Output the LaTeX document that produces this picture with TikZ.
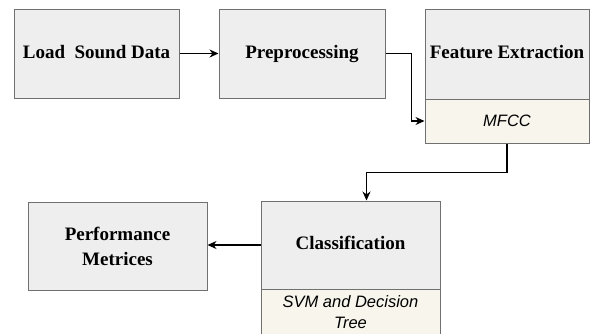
\documentclass[tikz,border=0pt]{standalone}
\usepackage{fontspec}
\setmainfont{Liberation Serif}
\newfontfamily\subfont{Liberation Sans}
\usepackage{xcolor}
\usetikzlibrary{arrows.meta, positioning}
\definecolor{boxgray}{HTML}{EEEEEE}
\definecolor{subcream}{HTML}{F7F5EC}
\definecolor{edgegray}{HTML}{707070}

\begin{document}
\begin{tikzpicture}[
    x=1pt, y=-1pt,
    block/.style={rectangle, draw=edgegray, fill=boxgray, line width=1pt, inner sep=0pt, align=center, font=\fontsize{19}{25}\selectfont\bfseries},
    oneline/.style={text height=13pt, text depth=4pt},
    sub/.style={rectangle, draw=edgegray, fill=subcream, line width=1pt, inner sep=0pt, align=center, font=\fontsize{16.5}{21}\selectfont\subfont\itshape},
    arrow/.style={-{Stealth[length=9pt, width=8pt]}, line width=1.3pt, black}
]
\useasboundingbox (0,0) rectangle (590,333);
\clip (0,0) rectangle (590,333);
% Top row
\node[block, oneline, minimum width=165pt, minimum height=89pt] (load) at (96.5,53.5) {Load\ \ Sound Data};
\node[block, oneline, minimum width=166pt, minimum height=89pt] (prep) at (302,53.5) {Preprocessing};
\node[block, oneline, minimum width=164pt, minimum height=90pt] (feat) at (507,54) {Feature Extraction};
\node[sub, minimum width=164pt, minimum height=44pt] (mfcc) at (507,121) {MFCC};
% Bottom row
\node[block, oneline, minimum width=179pt, minimum height=88pt] (class) at (350.5,245) {Classification};
\node[sub, minimum width=179pt, minimum height=46pt, anchor=north] (svm) at (350.5,289) {SVM and Decision\\Tree};
\node[block, minimum width=179pt, minimum height=88pt] (perf) at (117.5,246) {Performance\\Metrices};

% Arrows
\draw[arrow] (load) -- (prep);
\draw[arrow] (prep.east) -- ++(26,0) |- (mfcc.west);
\draw[arrow] (mfcc.south) -- ++(0,29) -| ([xshift=16pt]class.north);
\draw[arrow] (class.west) -- (class.west -| perf.east);
\end{tikzpicture}
\end{document}
